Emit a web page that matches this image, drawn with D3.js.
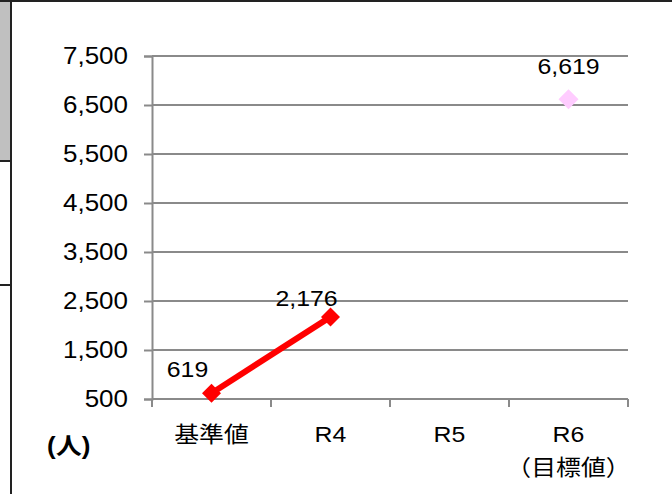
<!DOCTYPE html>
<html>
<head>
<meta charset="utf-8">
<script src="https://cdn.jsdelivr.net/npm/d3@7"></script>
<style>
  html, body { margin: 0; padding: 0; background: #fff; }
  svg { display: block; }
  text { font-family: "Liberation Sans", Arial, "Noto Sans CJK JP", sans-serif; fill: #000; }
</style>
</head>
<body>
<svg id="chart" width="672" height="494"></svg>
<script>
// Categories and values
const categories = ["基準値", "R4", "R5", "R6"];
const categorySub = ["", "", "", "（目標値）"];
const actualValues = [619, 2176, null, null];
const targetValues = [null, null, null, 6619];
const yTicks = [500, 1500, 2500, 3500, 4500, 5500, 6500, 7500];
const unitLabel = "(人)";

const svg = d3.select("#chart");
const W = 672, H = 494;
const plot = { left: 152, right: 628, top: 56, bottom: 399 };
const stretch = 1.13;
const gridColor = "#8a8a8a";

// Surrounding table frame
svg.append("rect").attr("x", 0).attr("y", 2).attr("width", 10).attr("height", 158).attr("fill", "#c0c0c0");
svg.append("line").attr("x1", 0).attr("x2", W).attr("y1", 1).attr("y2", 1).attr("stroke", "#222").attr("stroke-width", 2);
svg.append("line").attr("x1", 11).attr("x2", 11).attr("y1", 0).attr("y2", H).attr("stroke", "#222").attr("stroke-width", 2);
svg.append("line").attr("x1", 0).attr("x2", 11).attr("y1", 161).attr("y2", 161).attr("stroke", "#222").attr("stroke-width", 2);
svg.append("line").attr("x1", 0).attr("x2", 11).attr("y1", 285).attr("y2", 285).attr("stroke", "#222").attr("stroke-width", 2);

const y = d3.scaleLinear().domain([500, 7500]).range([plot.bottom, plot.top]);
const x = d3.scaleBand().domain(categories).range([plot.left, plot.right]).padding(0);
const cx = c => x(c) + x.bandwidth() / 2;
const fmt = d3.format(",");

// Horizontal gridlines
svg.append("g").selectAll("line").data(yTicks.filter(v => v !== 500)).join("line")
  .attr("x1", plot.left).attr("x2", plot.right)
  .attr("y1", d => y(d)).attr("y2", d => y(d))
  .attr("stroke", gridColor).attr("stroke-width", 2);

// Y axis
const yAxis = svg.append("g").attr("transform", `translate(${plot.left},0)`)
  .call(d3.axisLeft(y).tickValues(yTicks).tickSize(8).tickFormat(""));
yAxis.select(".domain").attr("stroke", gridColor).attr("stroke-width", 2);
yAxis.selectAll(".tick line").attr("stroke", gridColor).attr("stroke-width", 2);

svg.append("g").selectAll("text").data(yTicks).join("text")
  .attr("transform", d => `translate(128,${y(d) + 8}) scale(${stretch},1)`)
  .attr("text-anchor", "end")
  .attr("font-size", 23)
  .text(d => fmt(d));

// X axis
const xTickPos = categories.map(c => x(c)).concat([plot.right]);
svg.append("line").attr("x1", plot.left).attr("x2", plot.right)
  .attr("y1", plot.bottom).attr("y2", plot.bottom)
  .attr("stroke", gridColor).attr("stroke-width", 2);
svg.append("g").selectAll("line").data(xTickPos).join("line")
  .attr("x1", d => d).attr("x2", d => d)
  .attr("y1", plot.bottom).attr("y2", plot.bottom + 8)
  .attr("stroke", gridColor).attr("stroke-width", 2);

const xl = svg.append("g");
xl.selectAll("text.cat").data(categories).join("text").attr("class", "cat")
  .attr("transform", d => `translate(${cx(d)},442) scale(${stretch},1)`)
  .attr("text-anchor", "middle")
  .attr("font-size", 22)
  .text(d => d);
xl.selectAll("text.sub").data(categories.map((c, i) => ({ c, s: categorySub[i] })).filter(d => d.s)).join("text").attr("class", "sub")
  .attr("transform", d => `translate(${cx(d.c)},475) scale(${stretch},1)`)
  .attr("text-anchor", "middle")
  .attr("font-size", 22)
  .text(d => d.s);

// Unit label
svg.append("text")
  .attr("transform", `translate(47,454) scale(${stretch},1)`)
  .attr("font-size", 23).attr("font-weight", "bold")
  .text(unitLabel);

// Actual series line
const actual = categories.map((c, i) => ({ c, v: actualValues[i] })).filter(d => d.v != null);
const target = categories.map((c, i) => ({ c, v: targetValues[i] })).filter(d => d.v != null);

svg.append("path").datum(actual)
  .attr("d", d3.line().x(d => cx(d.c)).y(d => y(d.v)))
  .attr("fill", "none").attr("stroke", "#ff0000").attr("stroke-width", 6);

const diamond = r => `M0,${-r}L${r},0L0,${r}L${-r},0Z`;
svg.append("g").selectAll("path").data(actual).join("path")
  .attr("transform", d => `translate(${cx(d.c)},${y(d.v)})`)
  .attr("d", diamond(9.5)).attr("fill", "#ff0000");
svg.append("g").selectAll("path").data(target).join("path")
  .attr("transform", d => `translate(${cx(d.c)},${y(d.v)})`)
  .attr("d", diamond(10)).attr("fill", "#ffccff");

// Value labels (left-above for the actual series, above for the target)
svg.append("g").selectAll("text").data(actual).join("text")
  .attr("transform", (d, i) => `translate(${cx(d.c) - 24},${y(d.v) - (i === 0 ? 16 : 11)}) scale(${stretch},1)`)
  .attr("text-anchor", "middle")
  .attr("font-size", 22)
  .text(d => fmt(d.v));
svg.append("g").selectAll("text").data(target).join("text")
  .attr("transform", d => `translate(${cx(d.c)},${y(d.v) - 25}) scale(${stretch},1)`)
  .attr("text-anchor", "middle")
  .attr("font-size", 22)
  .text(d => fmt(d.v));
</script>
</body>
</html>
